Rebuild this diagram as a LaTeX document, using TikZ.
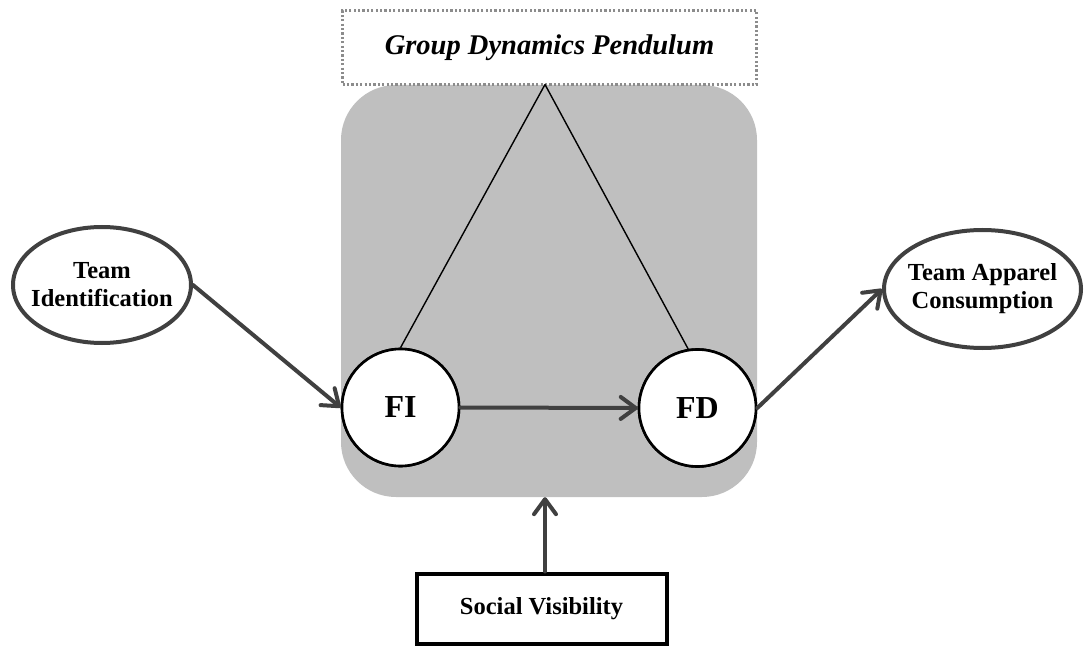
\documentclass[tikz,border=0pt]{standalone}
\usepackage{fontspec}
\setmainfont{Liberation Serif}
\usetikzlibrary{arrows.meta,shapes.geometric}
\definecolor{panelgray}{HTML}{BFBFBF}
\definecolor{inkgray}{HTML}{404040}
\definecolor{dotgray}{HTML}{8C8C8C}
\begin{document}
\begin{tikzpicture}[x=1pt,y=-1pt,
  lbl/.style={font=\fontsize{24.5}{28}\selectfont\bfseries, align=center},
  oval/.style={ellipse, draw=inkgray, line width=4pt, fill=white, inner xsep=-30pt, inner ysep=0pt, lbl},
  hub/.style={circle, draw=black, line width=2.6pt, fill=white, minimum size=117pt, inner sep=0pt,
              font=\fontsize{32}{36}\selectfont\bfseries},
  flow/.style={draw=inkgray, line width=4pt, line cap=round, line join=round,
               -{Straight Barb[length=15pt,width=22pt,line width=4pt,round]}},
  leg/.style={draw=black, line width=1.4pt}]
\useasboundingbox (0,0) rectangle (1085,647);

% shaded pendulum panel
\node (panel) [fill=panelgray, rounded corners=55pt, minimum width=416pt, minimum height=412pt,
               inner sep=0pt] at (549,291) {};

% title box on top of the panel
\node (gdp) [draw=dotgray, line width=2.2pt, dash pattern=on 2.2pt off 2.2pt, fill=white,
             minimum width=414pt, minimum height=74pt, inner sep=0pt,
             font=\fontsize{28.5}{32}\selectfont\bfseries\itshape] at (549.5,47.5) {Group Dynamics Pendulum};

\coordinate (apex) at (545,84.5);

% the two mediators (placed first so the legs can end on them)
\node (FI) [hub] at (400.5,407.5) {FI};
\node (FD) [hub] at (697.5,408) {FD};

% pendulum legs, then the circles again on top of them
\draw[leg] (apex) -- (FI.90);
\draw[leg] (apex) -- (FD.99);
\node [hub] at (FI) {FI};
\node [hub] at (FD) {FD};

% outer constructs
\node (TI) [oval, minimum width=178pt, minimum height=116pt] at (102,285) {Team\\Identification};
\node (TA) [oval, minimum width=197pt, minimum height=118pt] at (982.5,289) {Team Apparel\\Consumption};

\node (SV) [draw=black, line width=4pt, minimum width=250pt, minimum height=70pt, inner sep=0pt, lbl]
      at (541.5,608.5) {Social Visibility};

% paths
\draw[flow] (TI.east) -- (FI.west);
\draw[flow] (FI.east) -- (FD.west);
\draw[flow] (FD.east) -- (TA.west);
\draw[flow] (SV.north -| apex) -- (apex |- panel.south);
\end{tikzpicture}
\end{document}
